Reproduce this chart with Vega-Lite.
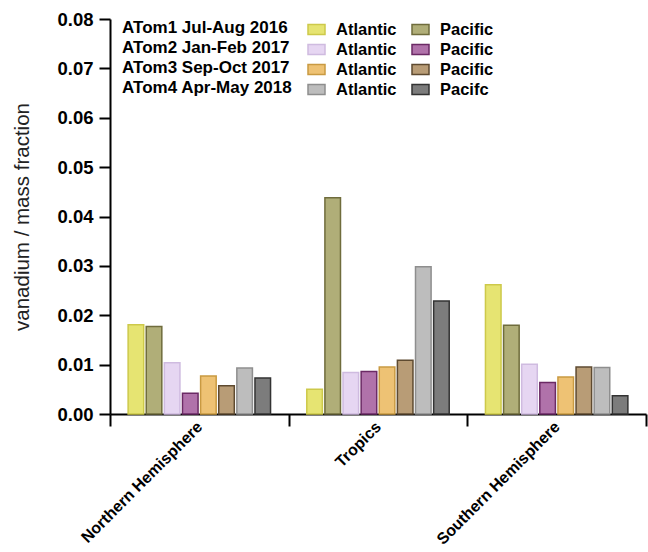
{
  "$schema": "https://vega.github.io/schema/vega-lite/v6.json",
  "autosize": {"type": "none"},
  "width": 536,
  "height": 395,
  "padding": {"left": 110, "top": 19, "right": 2, "bottom": 138},
  "background": "white",
  "config": {
    "view": {"stroke": null},
    "font": "Liberation Sans",
    "axis": {"grid": false, "domainColor": "black", "domainWidth": 2, "tickColor": "black", "tickWidth": 2, "labelColor": "black", "labelFont": "Liberation Sans", "labelFontWeight": "bold"}
  },
  "data": {
    "values": [
      {"region": "Northern Hemisphere", "series": "ATom1 Atlantic", "value": 0.0181},
      {"region": "Northern Hemisphere", "series": "ATom1 Pacific", "value": 0.0177},
      {"region": "Northern Hemisphere", "series": "ATom2 Atlantic", "value": 0.0104},
      {"region": "Northern Hemisphere", "series": "ATom2 Pacific", "value": 0.0042},
      {"region": "Northern Hemisphere", "series": "ATom3 Atlantic", "value": 0.0077},
      {"region": "Northern Hemisphere", "series": "ATom3 Pacific", "value": 0.0057},
      {"region": "Northern Hemisphere", "series": "ATom4 Atlantic", "value": 0.0093},
      {"region": "Northern Hemisphere", "series": "ATom4 Pacifc", "value": 0.0073},
      {"region": "Tropics", "series": "ATom1 Atlantic", "value": 0.0050},
      {"region": "Tropics", "series": "ATom1 Pacific", "value": 0.0438},
      {"region": "Tropics", "series": "ATom2 Atlantic", "value": 0.0084},
      {"region": "Tropics", "series": "ATom2 Pacific", "value": 0.0086},
      {"region": "Tropics", "series": "ATom3 Atlantic", "value": 0.0095},
      {"region": "Tropics", "series": "ATom3 Pacific", "value": 0.0109},
      {"region": "Tropics", "series": "ATom4 Atlantic", "value": 0.0298},
      {"region": "Tropics", "series": "ATom4 Pacifc", "value": 0.0229},
      {"region": "Southern Hemisphere", "series": "ATom1 Atlantic", "value": 0.0262},
      {"region": "Southern Hemisphere", "series": "ATom1 Pacific", "value": 0.0180},
      {"region": "Southern Hemisphere", "series": "ATom2 Atlantic", "value": 0.0101},
      {"region": "Southern Hemisphere", "series": "ATom2 Pacific", "value": 0.0064},
      {"region": "Southern Hemisphere", "series": "ATom3 Atlantic", "value": 0.0075},
      {"region": "Southern Hemisphere", "series": "ATom3 Pacific", "value": 0.0095},
      {"region": "Southern Hemisphere", "series": "ATom4 Atlantic", "value": 0.0094},
      {"region": "Southern Hemisphere", "series": "ATom4 Pacifc", "value": 0.0037}
    ]
  },
  "mark": {"type": "bar", "strokeWidth": 1.5},
  "encoding": {
    "x": {
      "field": "region",
      "type": "nominal",
      "sort": ["Northern Hemisphere", "Tropics", "Southern Hemisphere"],
      "scale": {"paddingInner": 0, "paddingOuter": 0},
      "axis": {
        "title": null,
        "tickBand": "extent",
        "tickSize": 12,
        "labelAngle": -45,
        "labelAlign": "right",
        "labelBaseline": "middle",
        "labelFontSize": 16,
        "labelPadding": -2,
        "labelLimit": 400
      }
    },
    "xOffset": {
      "field": "series",
      "type": "nominal",
      "sort": ["ATom1 Atlantic", "ATom1 Pacific", "ATom2 Atlantic", "ATom2 Pacific", "ATom3 Atlantic", "ATom3 Pacific", "ATom4 Atlantic", "ATom4 Pacifc"],
      "scale": {"paddingInner": 0.14, "paddingOuter": 1.0}
    },
    "y": {
      "field": "value",
      "type": "quantitative",
      "scale": {"domain": [0, 0.08], "nice": false},
      "axis": {
        "title": "vanadium / mass fraction",
        "titleFont": "Liberation Sans",
        "titleFontWeight": "normal",
        "titleFontSize": 20.5,
        "titleColor": "#222222",
        "titlePadding": 24,
        "values": [0, 0.01, 0.02, 0.03, 0.04, 0.05, 0.06, 0.07, 0.08],
        "format": ".2f",
        "tickSize": 11,
        "labelPadding": 6,
        "labelFontSize": 18.5
      }
    },
    "color": {
      "field": "series",
      "type": "nominal",
      "scale": {
        "domain": ["ATom1 Atlantic", "ATom1 Pacific", "ATom2 Atlantic", "ATom2 Pacific", "ATom3 Atlantic", "ATom3 Pacific", "ATom4 Atlantic", "ATom4 Pacifc"],
        "range": ["#e6e472", "#b0ae78", "#e6d6f2", "#b072aa", "#eec274", "#b89c76", "#bdbdbd", "#7c7c7c"]
      },
      "legend": {
        "title": ["ATom1 Jul-Aug 2016", "ATom2 Jan-Feb 2017", "ATom3 Sep-Oct 2017", "ATom4 Apr-May 2018"],
        "titleOrient": "left",
        "titleAnchor": "start",
        "titleFont": "Liberation Sans",
        "titleFontSize": 17,
        "titleFontWeight": "bold",
        "titleColor": "black",
        "titleLineHeight": 20,
        "titleBaseline": "top",
        "titlePadding": 14,
        "titleLimit": 300,
        "orient": "none",
        "legendX": 12,
        "legendY": 1,
        "columns": 2,
        "direction": "horizontal",
        "columnPadding": 12,
        "rowPadding": 2,
        "labelExpr": "split(datum.label, ' ')[1]",
        "labelFont": "Liberation Sans",
        "labelFontSize": 16.5,
        "labelFontWeight": "bold",
        "labelColor": "black",
        "labelOffset": 10,
        "symbolType": "M-1,-0.6L1,-0.6L1,0.6L-1,0.6Z",
        "symbolSize": 289,
        "symbolStrokeWidth": 1.5,
        "symbolOpacity": 1
      }
    },
    "stroke": {
      "field": "series",
      "type": "nominal",
      "scale": {
        "domain": ["ATom1 Atlantic", "ATom1 Pacific", "ATom2 Atlantic", "ATom2 Pacific", "ATom3 Atlantic", "ATom3 Pacific", "ATom4 Atlantic", "ATom4 Pacifc"],
        "range": ["#cdc94a", "#6f6c3c", "#cfbbe0", "#6b2a65", "#c99a42", "#5e4a30", "#8e8e8e", "#333333"]
      },
      "legend": {
        "title": ["ATom1 Jul-Aug 2016", "ATom2 Jan-Feb 2017", "ATom3 Sep-Oct 2017", "ATom4 Apr-May 2018"]
      }
    }
  }
}
